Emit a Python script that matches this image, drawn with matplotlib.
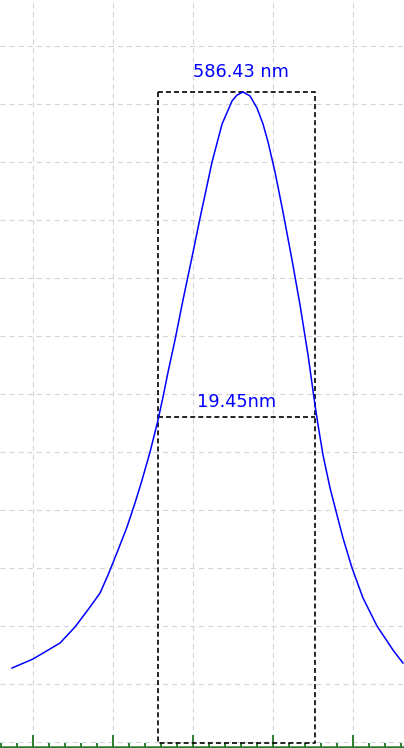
import numpy as np
import matplotlib
matplotlib.use("Agg")
import matplotlib.pyplot as plt
from matplotlib.ticker import MultipleLocator

# emission spectrum (wavelength nm, counts)
wavelength = [557.38, 560.00, 563.38, 565.25, 567.13, 568.38, 569.38, 570.63,
              571.75, 572.75, 573.63, 574.63, 575.63, 576.25, 576.88, 577.75,
              578.75, 579.88, 580.88, 582.38, 583.63, 584.88, 585.50, 586.25,
              587.13, 588.00, 588.75, 589.38, 590.25, 591.25, 592.38, 593.38,
              594.38, 595.25, 595.63, 596.25, 597.13, 598.00, 598.75, 599.88,
              601.25, 603.00, 605.00, 606.25]
counts = [1276, 1431, 1707, 1983, 2328, 2569, 2879, 3310,
          3707, 4121, 4517, 5000, 5552, 5948, 6379, 6931,
          7621, 8362, 9034, 10000, 10655, 11052, 11155, 11207,
          11138, 10931, 10655, 10345, 9828, 9138, 8310, 7534,
          6672, 5810, 5466, 4948, 4379, 3914, 3517, 3000,
          2483, 2000, 1586, 1362]

peak_label = "586.43 nm"
fwhm_label = "19.45nm"
fwhm_left, fwhm_right = 575.6, 595.3

plt.rcParams["lines.scale_dashes"] = False

fig = plt.figure(figsize=(4.04, 7.48), dpi=100)
ax = fig.add_axes([0, 0, 1, 1])
ax.set_xlim(555.875, 606.375)
ax.set_ylim(-103, 12793)

# grid
for gx in range(560, 601, 10):
    ax.axvline(gx, color="#d4d4d4", lw=0.8, dashes=(3.6, 2.9), zorder=0)
for gy in range(0, 12001, 1000):
    ax.axhline(gy, color="#d4d4d4", lw=0.8, dashes=(3.6, 2.9), zorder=0)

peak = max(counts)
half = peak / 2

# FWHM box
ax.plot([fwhm_left, fwhm_left, fwhm_right, fwhm_right, fwhm_left],
        [peak, -17, -17, peak, peak],
        color="black", lw=1.2, dashes=(3.6, 2.2), zorder=2)
ax.plot([fwhm_left, fwhm_right], [half, half],
        color="black", lw=1.2, dashes=(3.6, 2.2), zorder=2)

ax.plot(wavelength, counts, color="#0000ff", lw=1.1, zorder=3)

ax.text(586.0, 11552, peak_label, color="#0000ff", fontsize=12.8,
        ha="center", va="center")
ax.text(585.4, 5862, fwhm_label, color="#0000ff", fontsize=12.8,
        ha="center", va="center")

# green baseline axis with ticks pointing up
for s in ["top", "left", "right"]:
    ax.spines[s].set_visible(False)
ax.spines["bottom"].set_position(("data", -86))
ax.spines["bottom"].set_color("#2e7d32")
ax.spines["bottom"].set_linewidth(1.8)
ax.xaxis.set_major_locator(MultipleLocator(10))
ax.xaxis.set_minor_locator(MultipleLocator(2))
ax.tick_params(axis="x", which="major", direction="in", length=8.5,
               width=1.4, color="#2e7d32", labelbottom=False)
ax.tick_params(axis="x", which="minor", direction="in", length=3,
               width=1.4, color="#2e7d32")
ax.set_yticks([])

fig.savefig("out.png", dpi=100)
